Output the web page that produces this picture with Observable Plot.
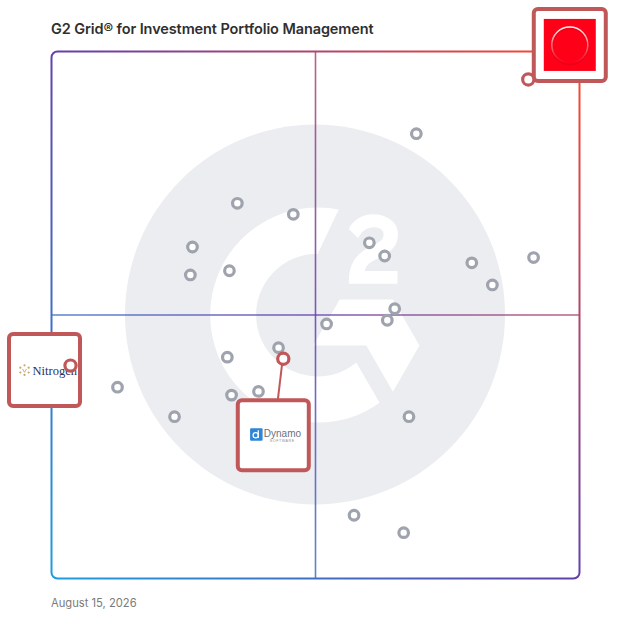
<!DOCTYPE html>
<html>
<head>
<meta charset="utf-8">
<script src="https://cdn.jsdelivr.net/npm/d3@7"></script>
<script src="https://cdn.jsdelivr.net/npm/@observablehq/plot@0.6"></script>
<style>
html, body { margin: 0; padding: 0; background: #fff; }
#wrap { width: 628px; height: 628px; position: relative; overflow: hidden; }
#title { height: 44px; box-sizing: border-box; padding: 21.5px 0 0 51px; font: 600 14.5px/1 Inter, sans-serif; color: #2f2f2f; letter-spacing: -0.1px; white-space: nowrap; }
#date { box-sizing: border-box; padding: 6.3px 0 0 51px; font: 400 11.2px/1 Inter, sans-serif; color: #7a7a7a; }
</style>
</head>
<body>
<div id="wrap">
  <div id="title"></div>
  <div id="chart"></div>
  <div id="date"></div>
</div>
<script>
// ---------- DATA ----------
const titleText = "G2 Grid® for Investment Portfolio Management";
const dateText = "August 15, 2026";

// Unlabelled products (gray markers): Satisfaction (x) and Market Presence (y), 0–100
const products = ["P1","P2","P3","P4","P5","P6","P7","P8","P9","P10","P11","P12",
                  "P13","P14","P15","P16","P17","P18","P19","P20","P21","P22","P23"];
const satisfaction   = [69.1, 35.2, 45.8, 60.2, 63.1, 26.7, 26.3, 33.7, 79.6, 91.3, 83.5, 65.0,
                        63.6, 52.1, 33.3, 43.0, 12.5, 34.1, 39.2, 23.3, 67.7, 57.3, 66.7];
const marketPresence = [84.4, 71.2, 69.1, 63.7, 61.2, 62.9, 57.6, 58.4, 59.9, 60.9, 55.7, 51.2,
                        49.0, 48.3, 42.0, 43.8, 36.3, 34.8, 35.5, 30.7, 30.7, 12.0, 8.7];

// Featured products (logo boxes)
const featuredNames = ["Red logo vendor", "Nitrogen", "Dynamo Software"];
const featuredSatisfaction   = [90.3, 3.6, 43.9];
const featuredMarketPresence = [94.7, 40.4, 41.7];

const quadrantSplit = [50];

// ---------- TABLES ----------
const points = products.map((name, i) => ({name, x: satisfaction[i], y: marketPresence[i]}));
const featured = featuredNames.map((name, i) => ({name, x: featuredSatisfaction[i], y: featuredMarketPresence[i]}));

document.getElementById("title").textContent = titleText;
document.getElementById("date").textContent = dateText;

// ---------- DECORATION ----------
const G2_TWO = "M143.3,77.1H126.2c.5-2.7,2.1-4.2,5.5-5.9l3.2-1.6c5.7-2.9,8.7-6.2,8.7-11.6a9.4,9.4,0,0,0-3.9-8c-2.6-1.9-5.6-2.8-9.1-2.8a14.1,14.1,0,0,0-7.7,2.2,13,13,0,0,0-5.1,5.6l4.9,4.9c1.9-3.9,4.7-5.8,8.4-5.8,3.1,0,5,1.6,5,3.8,0,1.9-.9,3.4-4.5,5.2l-2,1c-4.4,2.2-7.4,4.7-9.2,7.6s-2.6,6.5-2.6,10.9v1.2h25.6V77.1Z";
const G2_CHEVRON = "141,92.1 113,92.1 99,116.3 127,116.3 141,140.6 155,116.3 141,92.1";
const G2_G = "M101.4,132.6c-17.8,0-32.4-14.5-32.4-32.3s14.6-32.3,32.4-32.3L112.5,44.8a56,56,0,0,0-11.1-1.1,56.6,56.6,0,0,0,0,113.2,56.1,56.1,0,0,0,32.6-10.4l-12.3-21.3A32.2,32.2,0,0,1,101.4,132.6Z";

function background(index, scales, values, dim) {
  const g = d3.create("svg:g");
  const defs = g.append("defs");
  const W = dim.width, H = dim.height;
  const lg = defs.append("linearGradient").attr("id", "frameGrad")
    .attr("gradientUnits", "userSpaceOnUse")
    .attr("x1", dim.marginLeft).attr("y1", H - dim.marginBottom)
    .attr("x2", W - dim.marginRight).attr("y2", dim.marginTop);
  lg.append("stop").attr("offset", 0).attr("stop-color", "#1e9de0");
  lg.append("stop").attr("offset", 0.5).attr("stop-color", "#6240ad");
  lg.append("stop").attr("offset", 1).attr("stop-color", "#ff4a2a");

  const cx = scales.x(50), cy = scales.y(50), s = 1.9;
  const wm = g.append("g").attr("transform", `translate(${cx - 100 * s},${cy - 100 * s}) scale(${s})`);
  wm.append("circle").attr("cx", 100).attr("cy", 100).attr("r", 100).attr("fill", "#ebedf0");
  wm.append("path").attr("d", G2_TWO).attr("fill", "#fff");
  wm.append("polygon").attr("points", G2_CHEVRON).attr("fill", "#fff");
  wm.append("path").attr("d", G2_G).attr("fill", "#fff");
  return g.node();
}

const boxStroke = "#c0585a";
function drawBox(g, x, y, w, h) {
  g.append("rect").attr("x", x).attr("y", y).attr("width", w).attr("height", h)
    .attr("rx", 4).attr("fill", "#fff").attr("stroke", boxStroke).attr("stroke-width", 4);
}

function logos(index, scales) {
  const g = d3.create("svg:g");
  const defs = g.append("defs");
  const rg = defs.append("linearGradient").attr("id", "ringGrad")
    .attr("x1", 0).attr("y1", 0).attr("x2", 0).attr("y2", 1);
  rg.append("stop").attr("offset", 0).attr("stop-color", "#fff").attr("stop-opacity", 0.95);
  rg.append("stop").attr("offset", 0.55).attr("stop-color", "#fff").attr("stop-opacity", 0.4);
  rg.append("stop").attr("offset", 1).attr("stop-color", "#fff").attr("stop-opacity", 0.0);

  const P = featured.map(d => [scales.x(d.x), scales.y(d.y)]);

  // Top-right vendor (red logo)
  {
    const [px, py] = P[0];
    const bx = px + 6, by = py - 70;
    drawBox(g, bx, by, 72, 72);
    g.append("rect").attr("x", bx + 10).attr("y", by + 10).attr("width", 52).attr("height", 52).attr("fill", "#ff0019");
    g.append("circle").attr("cx", bx + 36).attr("cy", by + 37.5).attr("r", 18)
      .attr("fill", "none").attr("stroke", "#c80014").attr("stroke-opacity", 0.3).attr("stroke-width", 2);
    g.append("circle").attr("cx", bx + 36).attr("cy", by + 36).attr("r", 18)
      .attr("fill", "none").attr("stroke", "url(#ringGrad)").attr("stroke-width", 1.5);
  }

  // Nitrogen
  {
    const [px, py] = P[1];
    const bx = px - 61, by = py - 31;
    drawBox(g, bx, by, 71, 72);
    const ix = bx + 15.5, iy = by + 36;
    for (let k = 0; k < 6; k++) {
      const a = Math.PI / 6 + k * Math.PI / 3;
      g.append("circle").attr("cx", ix + 4.8 * Math.cos(a)).attr("cy", iy + 4.8 * Math.sin(a))
        .attr("r", 1.1).attr("fill", "#c9a66b");
    }
    g.append("path").attr("d", `M${ix - 2},${iy - 1.2}L${ix},${iy + 2.2}L${ix + 2},${iy - 1.2}`)
      .attr("fill", "none").attr("stroke", "#c9a66b").attr("stroke-width", 0.9);
    g.append("text").attr("x", bx + 23.5).attr("y", by + 40.5)
      .attr("font-family", "Liberation Serif, DejaVu Serif, serif").attr("font-size", 12.5)
      .attr("fill", "#283163").attr("text-anchor", "start").text("Nitrogen");
  }

  // Dynamo Software
  {
    const [px, py] = P[2];
    const bx = px - 45, by = py + 42;
    g.append("line").attr("x1", px).attr("y1", py).attr("x2", px - 5).attr("y2", by)
      .attr("stroke", boxStroke).attr("stroke-width", 2);
    drawBox(g, bx, by, 71, 70);
    const ix = bx + 12.3, iy = by + 28;
    g.append("rect").attr("x", ix).attr("y", iy).attr("width", 12.5).attr("height", 12.5).attr("rx", 1).attr("fill", "#2f86d6");
    g.append("circle").attr("cx", ix + 5.6).attr("cy", iy + 7).attr("r", 2.6)
      .attr("fill", "none").attr("stroke", "#fff").attr("stroke-width", 1.2);
    g.append("line").attr("x1", ix + 8.2).attr("y1", iy + 2).attr("x2", ix + 8.2).attr("y2", iy + 9.8)
      .attr("stroke", "#fff").attr("stroke-width", 1.2);
    g.append("text").attr("x", bx + 26).attr("y", by + 36.7)
      .attr("font-family", "Liberation Sans, Arial, sans-serif").attr("font-size", 10).attr("font-weight", 300)
      .attr("fill", "#6d7178").attr("text-anchor", "start").text("Dynamo");
    g.append("text").attr("x", bx + 32).attr("y", by + 41.5)
      .attr("font-family", "Liberation Sans, Arial, sans-serif").attr("font-size", 3.6)
      .attr("letter-spacing", 0.6).attr("fill", "#8a8e95").attr("text-anchor", "start").text("SOFTWARE");
  }
  return g.node();
}

// ---------- PLOT ----------
const chart = Plot.plot({
  width: 628,
  height: 548,
  marginLeft: 51,
  marginRight: 49,
  marginTop: 7,
  marginBottom: 14,
  style: {overflow: "visible", background: "transparent"},
  x: {domain: [0, 100], axis: null},
  y: {domain: [0, 100], axis: null},
  marks: [
    background,
    Plot.ruleX(quadrantSplit, {x: d => d, stroke: "url(#frameGrad)", strokeWidth: 1.6, strokeOpacity: 0.85}),
    Plot.ruleY(quadrantSplit, {y: d => d, stroke: "url(#frameGrad)", strokeWidth: 1.6, strokeOpacity: 0.85}),
    Plot.frame({stroke: "url(#frameGrad)", strokeWidth: 2, rx: 6}),
    Plot.dot(points, {x: "x", y: "y", r: 4.8, fill: "#fff", stroke: "#9ea3ae", strokeWidth: 3.2}),
    logos,
    Plot.dot(featured, {x: "x", y: "y", r: 5.6, fill: "#fff", stroke: boxStroke, strokeWidth: 3.2})
  ]
});
document.getElementById("chart").appendChild(chart);
</script>
</body>
</html>
